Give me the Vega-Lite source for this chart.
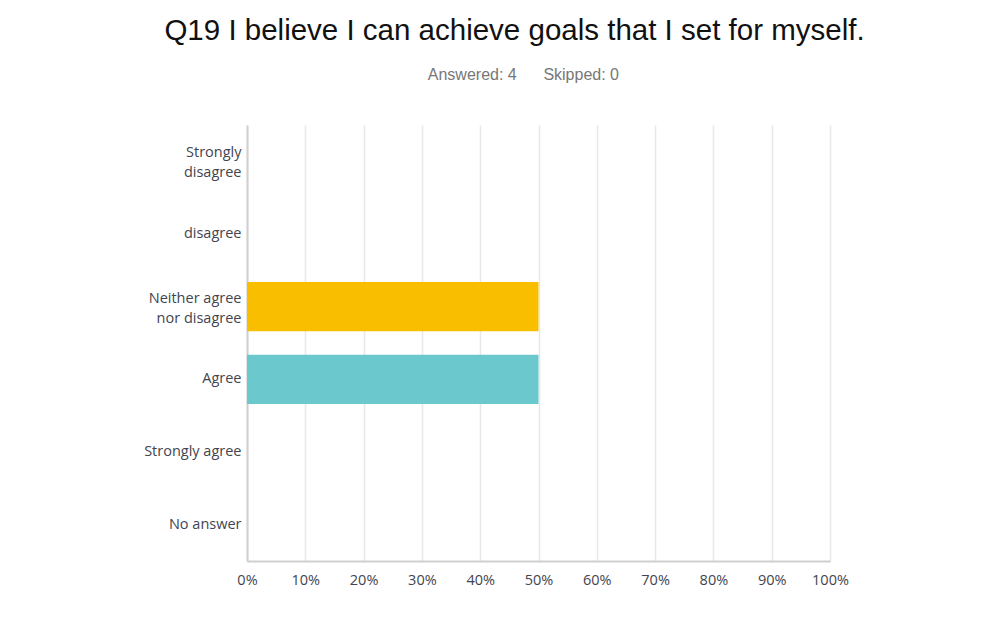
{
  "$schema": "https://vega.github.io/schema/vega-lite/v6.json",
  "width": 583,
  "height": 436,
  "autosize": {"type": "none"},
  "padding": {"left": 247, "top": 125, "right": 175, "bottom": 82},
  "background": "#ffffff",
  "title": {
    "text": "Q19 I believe I can achieve goals that I set for myself.",
    "subtitle": "\u200b\u00a0\u00a0\u00a0\u00a0Answered: 4\u00a0\u00a0\u00a0\u00a0\u00a0\u00a0Skipped: 0",
    "anchor": "middle",
    "frame": "group",
    "dx": -24,
    "offset": 41,
    "font": "Liberation Sans",
    "fontSize": 29.5,
    "fontWeight": "normal",
    "color": "#111111",
    "subtitleFont": "Liberation Sans",
    "subtitleFontSize": 16,
    "subtitleColor": "#777777",
    "subtitlePadding": 21
  },
  "data": {
    "values": [
      {"answer": "Strongly disagree", "pct": 0},
      {"answer": "disagree", "pct": 0},
      {"answer": "Neither agree nor disagree", "pct": 50},
      {"answer": "Agree", "pct": 50},
      {"answer": "Strongly agree", "pct": 0},
      {"answer": "No answer", "pct": 0}
    ]
  },
  "mark": {"type": "bar"},
  "encoding": {
    "y": {
      "field": "answer",
      "type": "nominal",
      "sort": null,
      "scale": {"paddingInner": 0.32, "paddingOuter": 0.16},
      "axis": {
        "title": null,
        "ticks": false,
        "domain": true,
        "domainColor": "#d0d0d0",
        "domainWidth": 2,
        "labelFont": "Open Sans",
        "labelFontSize": 14.5,
        "labelColor": "#3f4550",
        "labelPadding": 6,
        "labelLineHeight": 20,
        "labelOffset": {"condition": {"test": "datum.value == 'Strongly disagree' || datum.value == 'Neither agree nor disagree'", "value": -8}, "value": 0},
        "labelExpr": "datum.value == 'Strongly disagree' ? ['Strongly', 'disagree'] : datum.value == 'Neither agree nor disagree' ? ['Neither agree', 'nor disagree'] : datum.value"
      }
    },
    "x": {
      "field": "pct",
      "type": "quantitative",
      "scale": {"domain": [0, 100]},
      "axis": {
        "title": null,
        "values": [0, 10, 20, 30, 40, 50, 60, 70, 80, 90, 100],
        "labelExpr": "datum.value + '%'",
        "labelFlush": false,
        "labelBound": false,
        "ticks": false,
        "domainColor": "#d0d0d0",
        "domainWidth": 2,
        "grid": true,
        "gridColor": "#e8e8e8",
        "gridWidth": 1.5,
        "labelFont": "Open Sans",
        "labelFontSize": 14.5,
        "labelColor": "#3f4550",
        "labelPadding": 12
      }
    },
    "color": {
      "field": "answer",
      "type": "nominal",
      "legend": null,
      "scale": {
        "domain": ["Strongly disagree", "disagree", "Neither agree nor disagree", "Agree", "Strongly agree", "No answer"],
        "range": ["#5aa5d6", "#e36b5b", "#F9BE00", "#6BC8CD", "#9c6ade", "#aaaaaa"]
      }
    }
  },
  "config": {
    "view": {"stroke": null}
  }
}
